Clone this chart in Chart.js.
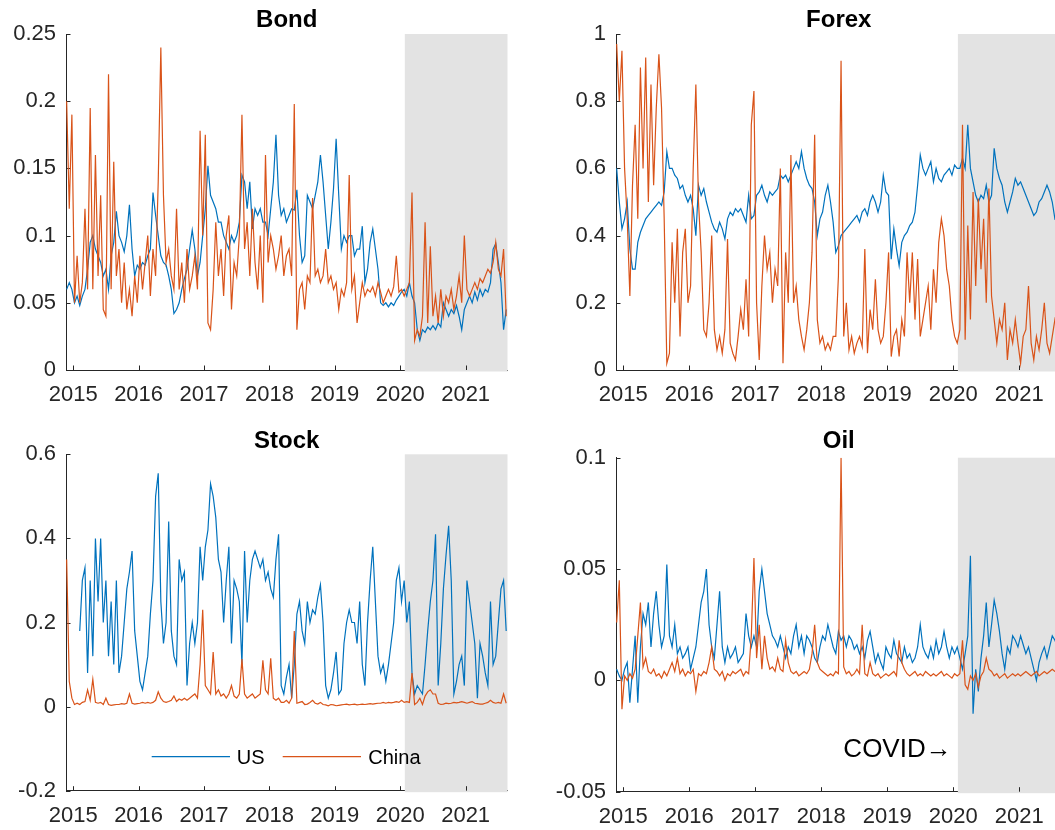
<!DOCTYPE html>
<html><head><meta charset="utf-8">
<script src="https://cdn.jsdelivr.net/npm/chart.js@4.4.0/dist/chart.umd.min.js"></script>
<style>
html,body{margin:0;padding:0;background:#fff;overflow:hidden;width:1055px;height:830px;position:relative;}
canvas{position:absolute;display:block;}
</style></head><body>
<canvas id="c1" width="530" height="410" style="left:0;top:0"></canvas>
<canvas id="c2" width="540" height="410" style="left:530px;top:0"></canvas>
<canvas id="c3" width="530" height="415" style="left:0;top:415px"></canvas>
<canvas id="c4" width="540" height="415" style="left:530px;top:415px"></canvas>
<script>
// ---- data (biweekly samples) ----
const dateStart = 2014.9, dateStep = 0.04;   // time of first sample, years between samples
const years = [2015, 2016, 2017, 2018, 2019, 2020, 2021];
const covidStart = 2020.07;
const xMin = 2014.89, xMax = 2021.64;
const seriesNames = ['US', 'China'];

const bondTicks = [0, 0.05, 0.1, 0.15, 0.2, 0.25];
const forexTicks = [0, 0.2, 0.4, 0.6, 0.8, 1];
const stockTicks = [-0.2, 0, 0.2, 0.4, 0.6];
const oilTicks = [-0.05, 0, 0.05, 0.1];

const bondUS = [0.06,0.065,0.06,0.05,0.055,0.048,0.055,0.06,0.075,0.095,
0.1,0.09,0.085,0.08,0.07,0.075,0.06,0.085,0.095,0.118,
0.1,0.095,0.088,0.1,0.123,0.09,0.07,0.078,0.075,0.08,
0.078,0.085,0.09,0.132,0.115,0.1,0.085,0.08,0.078,0.07,
0.06,0.042,0.045,0.05,0.06,0.068,0.075,0.09,0.104,0.09,
0.07,0.08,0.1,0.12,0.152,0.13,0.125,0.12,0.11,0.11,
0.1,0.095,0.09,0.1,0.095,0.1,0.11,0.145,0.14,0.12,
0.14,0.105,0.12,0.115,0.12,0.11,0.11,0.1,0.12,0.14,
0.175,0.13,0.115,0.12,0.11,0.115,0.12,0.119,0.134,0.1,
0.08,0.085,0.13,0.125,0.12,0.13,0.14,0.16,0.14,0.115,
0.09,0.11,0.135,0.172,0.13,0.09,0.1,0.095,0.1,0.1,
0.085,0.09,0.09,0.107,0.065,0.075,0.095,0.105,0.09,0.075,
0.05,0.048,0.05,0.047,0.05,0.048,0.052,0.055,0.058,0.06,
0.055,0.065,0.055,0.05,0.03,0.022,0.03,0.028,0.032,0.03,
0.033,0.03,0.035,0.032,0.05,0.045,0.04,0.045,0.042,0.048,
0.04,0.03,0.045,0.05,0.055,0.05,0.058,0.052,0.06,0.055,
0.06,0.058,0.065,0.09,0.094,0.08,0.065,0.03,0.045];
const bondCN = [0.2,0.12,0.19,0.05,0.085,0.05,0.065,0.12,0.06,0.195,
0.06,0.16,0.07,0.13,0.045,0.04,0.22,0.06,0.155,0.07,
0.09,0.05,0.08,0.045,0.06,0.04,0.07,0.05,0.085,0.06,
0.08,0.1,0.055,0.09,0.07,0.14,0.24,0.13,0.08,0.09,
0.07,0.06,0.12,0.06,0.08,0.05,0.09,0.06,0.07,0.085,
0.06,0.178,0.1,0.175,0.035,0.03,0.06,0.11,0.07,0.09,
0.055,0.1,0.115,0.045,0.08,0.07,0.1,0.19,0.09,0.11,
0.07,0.12,0.08,0.06,0.1,0.05,0.16,0.08,0.1,0.09,
0.075,0.085,0.1,0.07,0.085,0.09,0.07,0.198,0.03,0.06,
0.065,0.045,0.07,0.065,0.128,0.07,0.075,0.065,0.07,0.09,
0.065,0.07,0.06,0.065,0.045,0.06,0.055,0.065,0.145,0.06,
0.07,0.035,0.05,0.065,0.055,0.06,0.058,0.062,0.055,0.065,
0.058,0.05,0.055,0.06,0.055,0.062,0.085,0.058,0.06,0.055,
0.06,0.065,0.132,0.022,0.03,0.025,0.04,0.11,0.035,0.092,
0.04,0.055,0.035,0.06,0.04,0.055,0.05,0.06,0.045,0.055,
0.07,0.05,0.1,0.06,0.055,0.06,0.065,0.06,0.068,0.065,
0.07,0.075,0.072,0.08,0.095,0.075,0.07,0.09,0.04];

const forexUS = [0.6,0.5,0.42,0.45,0.5,0.36,0.3,0.3,0.38,0.41,
0.43,0.45,0.46,0.47,0.48,0.49,0.5,0.49,0.53,0.65,
0.6,0.6,0.58,0.57,0.54,0.55,0.52,0.5,0.52,0.48,
0.4,0.55,0.52,0.54,0.5,0.47,0.44,0.42,0.41,0.44,
0.42,0.39,0.45,0.47,0.46,0.48,0.47,0.48,0.46,0.44,
0.52,0.45,0.46,0.52,0.53,0.55,0.52,0.5,0.53,0.52,
0.53,0.54,0.58,0.57,0.58,0.56,0.58,0.6,0.62,0.6,
0.65,0.6,0.57,0.55,0.54,0.5,0.4,0.45,0.47,0.52,
0.55,0.5,0.44,0.35,0.37,0.4,0.41,0.42,0.43,0.44,
0.45,0.46,0.44,0.47,0.48,0.46,0.5,0.52,0.5,0.47,
0.5,0.58,0.53,0.52,0.33,0.42,0.36,0.31,0.38,0.4,
0.41,0.43,0.44,0.47,0.55,0.64,0.6,0.58,0.6,0.62,
0.56,0.6,0.57,0.56,0.58,0.59,0.6,0.58,0.61,0.6,
0.6,0.63,0.6,0.73,0.6,0.56,0.52,0.5,0.52,0.51,
0.55,0.5,0.52,0.66,0.6,0.57,0.55,0.5,0.47,0.5,
0.53,0.57,0.55,0.56,0.54,0.52,0.5,0.48,0.46,0.47,
0.5,0.51,0.53,0.55,0.53,0.5,0.45,0.46,0.45];
const forexCN = [0.97,0.8,0.95,0.6,0.45,0.22,0.55,0.73,0.45,0.9,
0.6,0.93,0.5,0.85,0.55,0.78,0.94,0.78,0.45,0.02,
0.05,0.38,0.2,0.42,0.1,0.35,0.42,0.2,0.25,0.6,
0.85,0.5,0.35,0.12,0.1,0.2,0.4,0.12,0.06,0.1,
0.05,0.12,0.39,0.08,0.05,0.03,0.1,0.18,0.12,0.27,
0.1,0.73,0.83,0.2,0.03,0.25,0.4,0.3,0.35,0.2,
0.3,0.25,0.6,0.02,0.35,0.2,0.64,0.2,0.25,0.15,
0.1,0.06,0.12,0.2,0.35,0.7,0.15,0.08,0.1,0.06,
0.08,0.06,0.1,0.1,0.28,0.92,0.1,0.2,0.06,0.1,
0.05,0.08,0.1,0.07,0.36,0.05,0.18,0.12,0.27,0.12,
0.08,0.1,0.2,0.35,0.04,0.1,0.12,0.04,0.15,0.1,
0.35,0.2,0.35,0.15,0.33,0.1,0.15,0.2,0.25,0.12,
0.3,0.2,0.38,0.45,0.4,0.3,0.25,0.15,0.1,0.08,
0.12,0.73,0.09,0.43,0.15,0.53,0.25,0.51,0.3,0.45,
0.2,0.54,0.22,0.15,0.08,0.15,0.12,0.2,0.03,0.12,
0.08,0.15,0.08,0.02,0.1,0.12,0.25,0.08,0.03,0.1,
0.06,0.12,0.2,0.08,0.05,0.1,0.15,0.12,0.14];

const stockUS = [null,null,null,null,null,0.18,0.3,0.33,0.08,0.3,
0.12,0.4,0.25,0.4,0.2,0.3,0.12,0.25,0.1,0.3,
0.08,0.12,0.2,0.28,0.32,0.37,0.18,0.12,0.06,0.04,
0.08,0.12,0.22,0.3,0.5,0.555,0.25,0.15,0.2,0.44,
0.18,0.12,0.1,0.35,0.3,0.32,0.05,0.15,0.2,0.15,
0.2,0.38,0.3,0.38,0.42,0.53,0.5,0.45,0.35,0.32,
0.2,0.3,0.38,0.15,0.3,0.28,0.25,0.1,0.37,0.2,
0.3,0.35,0.37,0.35,0.33,0.35,0.3,0.32,0.28,0.26,
0.35,0.41,0.05,0.03,0.07,0.1,0.02,0.1,0.22,0.25,
0.18,0.15,0.25,0.2,0.23,0.22,0.26,0.29,0.2,0.05,
0.02,0.04,0.08,0.13,0.03,0.04,0.15,0.2,0.23,0.2,
0.2,0.15,0.25,0.1,0.05,0.2,0.3,0.38,0.25,0.12,
0.08,0.1,0.06,0.1,0.15,0.2,0.3,0.33,0.25,0.3,
0.2,0.25,0.08,0.03,0.05,0.04,0.03,0.1,0.18,0.25,
0.3,0.41,0.05,0.15,0.28,0.36,0.43,0.3,0.03,0.06,
0.1,0.12,0.05,0.3,0.25,0.2,0.15,0.02,0.15,0.12,
0.08,0.05,0.25,0.1,0.12,0.2,0.28,0.3,0.18];
const stockCN = [0.35,0.06,0.02,0.005,0.008,0.005,0.01,0.012,0.04,0.015,
0.065,0.01,0.008,0.01,0.005,0.02,0.005,0.003,0.004,0.005,
0.005,0.007,0.006,0.008,0.03,0.008,0.006,0.007,0.008,0.01,
0.008,0.01,0.008,0.01,0.015,0.035,0.02,0.012,0.01,0.012,
0.015,0.025,0.012,0.018,0.015,0.02,0.015,0.02,0.025,0.03,
0.02,0.1,0.23,0.05,0.04,0.03,0.13,0.03,0.04,0.025,
0.03,0.02,0.03,0.05,0.025,0.02,0.03,0.113,0.03,0.02,
0.025,0.03,0.02,0.025,0.03,0.11,0.04,0.03,0.115,0.02,
0.015,0.02,0.01,0.01,0.015,0.008,0.02,0.18,0.008,0.01,
0.012,0.005,0.006,0.01,0.015,0.008,0.006,0.01,0.005,0.004,
0.002,0.005,0.004,0.002,0.003,0.004,0.005,0.006,0.004,0.005,
0.006,0.004,0.005,0.006,0.005,0.006,0.007,0.006,0.007,0.008,
0.008,0.01,0.008,0.01,0.009,0.01,0.012,0.01,0.015,0.01,
0.012,0.01,0.08,0.005,0.01,0.02,0.005,0.025,0.035,0.04,
0.03,0.03,0.008,0.005,0.006,0.008,0.007,0.008,0.01,0.009,
0.01,0.012,0.01,0.008,0.01,0.012,0.008,0.007,0.006,0.006,
0.008,0.01,0.015,0.01,0.008,0.01,0.008,0.03,0.008];

const oilUS = [0.005,0.002,0.0,0.005,0.008,-0.01,0.005,0.02,-0.01,0.015,
0.03,0.025,0.035,0.015,0.03,0.04,0.025,0.015,0.02,0.052,
0.02,0.015,0.025,0.012,0.015,0.01,0.012,0.015,0.005,0.01,
0.015,0.025,0.035,0.04,0.05,0.025,0.015,0.01,0.025,0.04,
0.015,0.008,0.015,0.01,0.012,0.015,0.008,0.01,0.012,0.03,
0.02,0.015,0.02,0.015,0.04,0.05,0.04,0.03,0.025,0.02,
0.018,0.015,0.02,0.015,0.01,0.015,0.012,0.02,0.025,0.015,
0.02,0.012,0.02,0.018,0.015,0.01,0.008,0.015,0.02,0.018,
0.025,0.02,0.015,0.012,0.022,0.018,0.02,0.015,0.02,0.018,
0.014,0.016,0.012,0.015,0.01,0.018,0.022,0.015,0.008,0.012,
0.008,0.005,0.015,0.012,0.01,0.018,0.012,0.01,0.008,0.015,
0.01,0.012,0.008,0.01,0.015,0.025,0.015,0.012,0.01,0.015,
0.01,0.018,0.012,0.015,0.022,0.015,0.01,0.015,0.012,0.015,
0.01,0.005,0.012,0.02,0.056,-0.015,0.005,-0.005,0.01,0.02,
0.035,0.015,0.025,0.036,0.03,0.022,0.012,0.005,0.015,0.012,
0.02,0.018,0.015,0.02,0.016,0.012,0.015,0.01,0.005,0.0,
0.008,0.012,0.015,0.01,0.015,0.02,0.018,0.015,0.017];
const oilCN = [0.026,0.045,-0.013,0.002,0.0,0.003,0.001,0.005,0.02,0.035,
0.006,0.01,0.004,0.003,0.005,0.002,0.003,0.001,0.004,0.002,
0.005,0.008,0.004,0.01,0.003,0.005,0.002,0.004,0.003,0.005,
-0.005,0.003,0.002,0.004,0.003,0.008,0.015,0.005,0.004,0.002,
0.004,0.0,0.003,0.002,0.004,0.003,0.004,0.005,0.002,0.004,
0.003,0.02,0.055,0.01,0.025,0.005,0.02,0.01,0.005,0.006,
0.004,0.01,0.005,0.004,0.018,0.008,0.004,0.003,0.004,0.002,
0.003,0.004,0.003,0.005,0.012,0.025,0.008,0.005,0.004,0.003,
0.002,0.003,0.002,0.004,0.003,0.1,0.006,0.003,0.004,0.002,
0.003,0.005,0.003,0.025,0.003,0.002,0.008,0.003,0.002,0.003,
0.001,0.002,0.003,0.002,0.003,0.004,0.002,0.018,0.008,0.005,
0.003,0.002,0.003,0.004,0.002,0.003,0.002,0.004,0.003,0.002,
0.003,0.002,0.003,0.004,0.002,0.003,0.002,0.001,0.003,0.002,
0.003,0.018,-0.002,-0.004,0.002,0.0,0.003,-0.003,0.002,0.004,
0.01,0.005,0.004,0.002,0.003,0.001,0.002,0.003,0.001,0.002,
0.003,0.002,0.003,0.002,0.003,0.004,0.003,0.002,0.003,0.004,
0.002,0.003,0.004,0.003,0.004,0.005,0.004,0.004,0.005];

const dates = bondUS.map((_, i) => +(dateStart + dateStep * i).toFixed(2));

// ---- styling ----
const BLUE = '#0072BD', ORANGE = '#D95319', AXIS = '#262626', SHADE = '#e3e3e3';
const FONT = '"Liberation Sans", Arial, Helvetica, sans-serif';

const panelPlugin = {
  id: 'panelPlugin',
  beforeDatasetsDraw(chart) {
    const o = chart.options.plugins.panelPlugin;
    const ctx = chart.ctx, a = chart.chartArea, xs = chart.scales.x, ys = chart.scales.y;
    ctx.save();
    const gx = xs.getPixelForValue(covidStart);
    ctx.fillStyle = SHADE;
    ctx.fillRect(gx, a.top, a.right - gx, a.bottom - a.top + 1.5);
    ctx.strokeStyle = AXIS; ctx.lineWidth = 1;
    ctx.beginPath();
    years.forEach(v => { const px = Math.round(xs.getPixelForValue(v)) + 0.5; ctx.moveTo(px, a.bottom); ctx.lineTo(px, a.bottom - 4.5); });
    o.yTicks.forEach(v => { const py = Math.round(ys.getPixelForValue(v)) + 0.5; ctx.moveTo(a.left, py); ctx.lineTo(a.left + 4.5, py); });
    ctx.stroke();
    ctx.restore();
  },
  afterDatasetsDraw(chart) {
    const o = chart.options.plugins.panelPlugin;
    const ctx = chart.ctx, a = chart.chartArea;
    ctx.save();
    ctx.fillStyle = '#000';
    ctx.font = 'bold 24px ' + FONT;
    ctx.textAlign = 'center'; ctx.textBaseline = 'alphabetic';
    ctx.fillText(o.title, (a.left + a.right) / 2, o.titleY);
    if (o.legend) {
      const L = o.legend;
      ctx.lineWidth = 1.2;
      ctx.strokeStyle = BLUE; ctx.beginPath(); ctx.moveTo(L.x1, L.y); ctx.lineTo(L.x2, L.y); ctx.stroke();
      ctx.strokeStyle = ORANGE; ctx.beginPath(); ctx.moveTo(L.x3, L.y); ctx.lineTo(L.x4, L.y); ctx.stroke();
      ctx.font = '20px ' + FONT; ctx.textAlign = 'left'; ctx.fillStyle = '#000';
      ctx.fillText(seriesNames[0], L.t1, L.base);
      ctx.fillText(seriesNames[1], L.t2, L.base);
    }
    if (o.note) {
      ctx.font = '26px ' + FONT; ctx.textAlign = 'right'; ctx.fillStyle = '#000';
      ctx.fillText(o.note.text, o.note.x, o.note.y);
    }
    ctx.restore();
  }
};

function makePanel(id, title, us, cn, yMin, yMax, yTicks, L, extra) {
  const pts = arr => dates.map((t, i) => ({ x: t, y: arr[i] }));
  return new Chart(document.getElementById(id), {
    type: 'line',
    data: {
      datasets: [
        { label: seriesNames[1], data: pts(cn), borderColor: ORANGE, borderWidth: 1.2, pointRadius: 0, tension: 0, order: 0 },
        { label: seriesNames[0], data: pts(us), borderColor: BLUE, borderWidth: 1.2, pointRadius: 0, tension: 0, order: 1 }
      ]
    },
    options: {
      responsive: false, animation: false, devicePixelRatio: 1,
      layout: { padding: { left: 0, top: L.top, right: L.right, bottom: 0 } },
      plugins: {
        legend: { display: false }, tooltip: { enabled: false }, title: { display: false },
        panelPlugin: Object.assign({ title, titleY: L.titleY, yTicks }, extra || {})
      },
      scales: {
        x: {
          type: 'linear', min: xMin, max: xMax,
          grid: { display: false, drawTicks: false },
          border: { display: true, color: AXIS, width: 1 },
          afterBuildTicks: s => { s.ticks = years.map(v => ({ value: v })); },
          afterFit: s => { s.height = L.xHeight; },
          ticks: { autoSkip: false, maxRotation: 0, padding: 12, color: AXIS, font: { family: FONT, size: 22 }, callback: v => String(v) }
        },
        y: {
          type: 'linear', min: yMin, max: yMax,
          grid: { display: false, drawTicks: false },
          border: { display: true, color: AXIS, width: 1 },
          afterBuildTicks: s => { s.ticks = yTicks.map(v => ({ value: v })); },
          afterFit: s => { s.width = L.yWidth; },
          ticks: { padding: 10, color: AXIS, font: { family: FONT, size: 22 }, callback: v => String(+v.toFixed(3)) }
        }
      }
    },
    plugins: [panelPlugin]
  });
}

makePanel('c1', 'Bond', bondUS, bondCN, 0, 0.25, bondTicks,
  { top: 34, right: 22.5, yWidth: 66, xHeight: 40, titleY: 26.7 });
makePanel('c2', 'Forex', forexUS, forexCN, 0, 1, forexTicks,
  { top: 34, right: 8.5, yWidth: 86, xHeight: 40, titleY: 26.7 });
makePanel('c3', 'Stock', stockUS, stockCN, -0.2, 0.6, stockTicks,
  { top: 39.3, right: 22.5, yWidth: 66, xHeight: 39.3, titleY: 32.7 },
  { legend: { y: 341.7, x1: 151.7, x2: 230, x3: 282.7, x4: 361, t1: 236.7, t2: 368.3, base: 349.3 } });
makePanel('c4', 'Oil', oilUS, oilCN, -0.05, 0.1, oilTicks,
  { top: 42.7, right: 8.5, yWidth: 86, xHeight: 38.3, titleY: 32.7 },
  { note: { text: 'COVID\u2192', x: 421.7, y: 341.7 } });
</script>
</body></html>
